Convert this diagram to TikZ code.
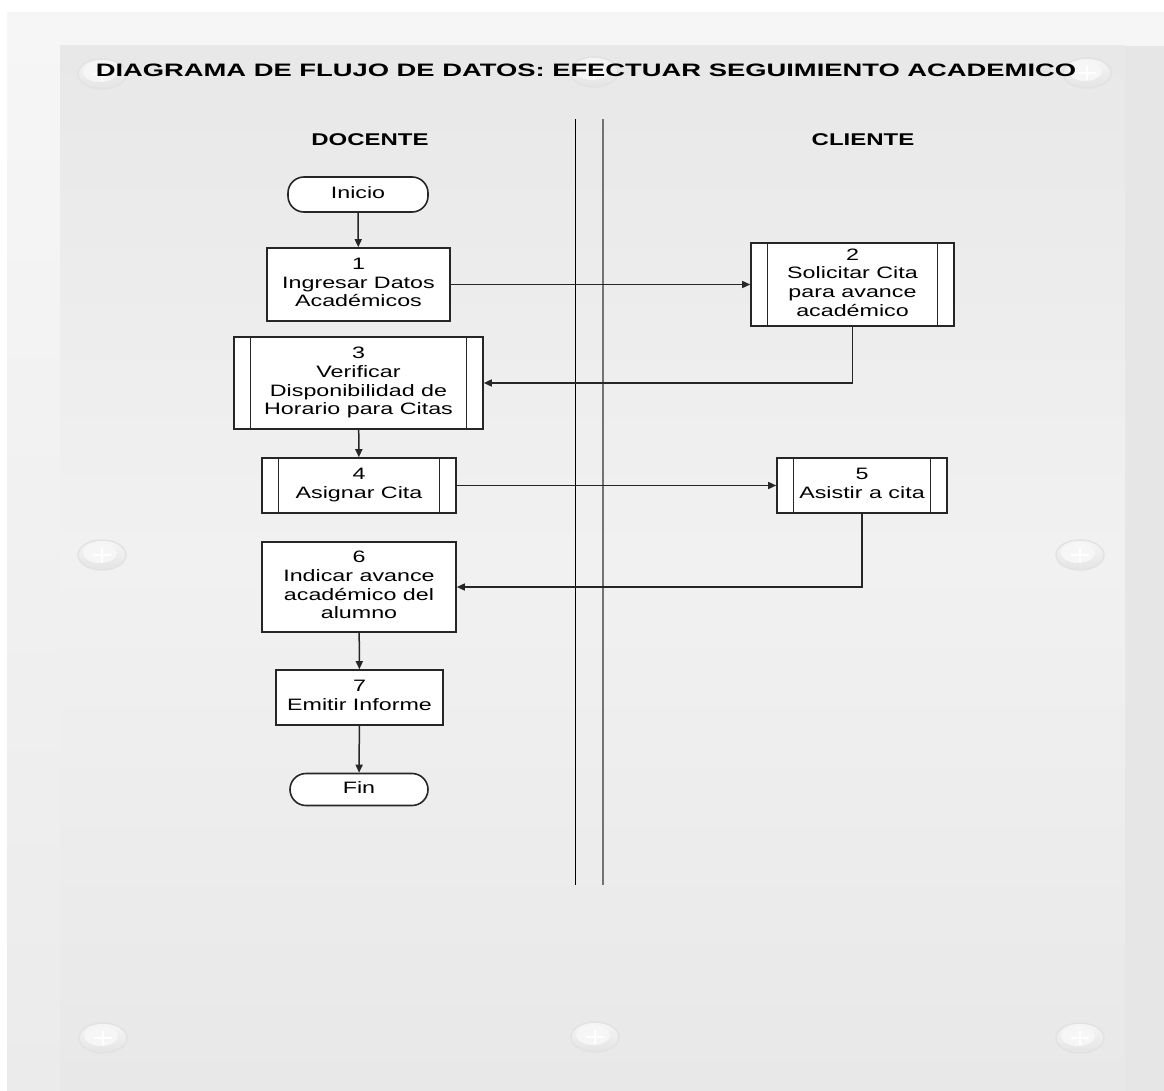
\documentclass[tikz,border=0pt]{standalone}
\usepackage{fontspec}
\setmainfont{Liberation Sans}
\usepackage{graphicx}
\usetikzlibrary{arrows.meta}

% wide lettering used throughout the chart
\newcommand\widetext[2][1.41]{\scalebox{#1}[1]{\begin{tabular}{@{}c@{}}#2\end{tabular}}}

\definecolor{frameTop}{HTML}{F6F6F6}
\definecolor{frameBot}{HTML}{EBEBEB}
\definecolor{panelEdge}{HTML}{E8E8E8}
\definecolor{panelMid}{HTML}{F1F1F1}
\definecolor{stripGrey}{HTML}{E6E6E6}
\definecolor{ornLight}{HTML}{F6F6F6}
\definecolor{ornDark}{HTML}{E4E4E4}
\definecolor{ornRim}{HTML}{E2E2E2}

\begin{document}
\begin{tikzpicture}[x=1pt,y=-1pt,
  box/.style={draw=black!85, line width=1.6pt, fill=white, inner sep=0pt,
    font=\fontsize{16.5}{18.7}\selectfont},
  subproc/.style={box,
    path picture={\draw[line width=1.6pt, black!85]
      ([xshift=16.5pt]path picture bounding box.north west) --
      ([xshift=16.5pt]path picture bounding box.south west)
      ([xshift=-16.5pt]path picture bounding box.north east) --
      ([xshift=-16.5pt]path picture bounding box.south east);}},
  terminal/.style={box, rounded corners=16pt},
  arr/.style={draw=black!85, line width=1.5pt, -{Triangle[length=8pt,width=7pt]}},
  lane/.style={font=\bfseries\fontsize{17}{19}\selectfont, anchor=base},
  ornament/.style={top color=ornLight, bottom color=ornDark, draw=ornRim, line width=1.5pt},
]
\useasboundingbox (0,0) rectangle (1164,1091);

% background frame and panel
\shade[top color=frameTop, bottom color=frameBot] (7,13) rectangle (1164,1091);
\fill[stripGrey] (1125,46) rectangle (1164,1091);
\shade[top color=panelEdge, bottom color=panelMid] (60,46) rectangle (1125,560);
\shade[top color=panelMid, bottom color=panelEdge] (60,560) rectangle (1125,1091);

% decorative plus buttons
\foreach \px/\py in {102/74, 594/72, 1087/73, 102/555, 1080/555, 103/1038, 595/1037, 1080/1038}{
  \shade[ornament] (\px,\py) ellipse [x radius=24, y radius=15];
  \fill[ornLight] (\px-2,\py-2) ellipse [x radius=17, y radius=10];
  \draw[white, line width=2.2pt] (\px-9,\py) -- (\px+9,\py) (\px,\py-7) -- (\px,\py+7);
}

% title and lane headings
\node[font=\bfseries\fontsize{18}{20}\selectfont, anchor=base] (title) at (586,77)
  {\widetext[1.52]{DIAGRAMA DE FLUJO DE DATOS: EFECTUAR SEGUIMIENTO ACADEMICO}};
\node[lane] (docente) at (370,146) {\widetext{DOCENTE}};
\node[lane] (cliente) at (863,146) {\widetext{CLIENTE}};

% lane separator
\draw[black, line width=1pt] (575.5,119) -- (575.5,885);
\draw[black!55, line width=1.6pt] (603,119) -- (603,885);

% flow steps
\node[terminal, minimum width=140pt, minimum height=35pt] (ini) at (358,194.5) {\widetext{Inicio}};
\node[box, minimum width=183pt, minimum height=73pt] (b1) at (358.5,284.5)
  {\widetext{1\\Ingresar Datos\\Académicos}};
\node[subproc, minimum width=203pt, minimum height=83pt] (b2) at (852.5,284.5)
  {\widetext{2\\Solicitar Cita\\para avance\\académico}};
\node[subproc, minimum width=249pt, minimum height=92pt] (b3) at (358.5,383)
  {\widetext{3\\Verificar\\Disponibilidad de\\Horario para Citas}};
\node[subproc, minimum width=194pt, minimum height=55pt] (b4) at (359,485.5)
  {\widetext{4\\Asignar Cita}};
\node[subproc, minimum width=170pt, minimum height=55pt] (b5) at (862,485.5)
  {\widetext{5\\Asistir a cita}};
\node[box, minimum width=194pt, minimum height=90pt] (b6) at (359,587)
  {\widetext{6\\Indicar avance\\académico del\\alumno}};
\node[box, minimum width=167pt, minimum height=55pt] (b7) at (359.5,697.5)
  {\widetext{7\\Emitir Informe}};
\node[terminal, minimum width=138pt, minimum height=32pt] (fin) at (359,789.5) {\widetext{Fin}};

% connectors
\draw[arr] (ini) -- (b1);
\draw[arr] (b1.east) -- (b2.west);
\draw[arr] (b2.south) |- (b3.east);
\draw[arr] (b3) -- (b4);
\draw[arr] (b4.east) -- (b5.west);
\draw[arr] (b5.south) |- (b6.east);
\draw[arr] (b6) -- (b7);
\draw[arr] (b7) -- (fin);
\end{tikzpicture}
\end{document}
